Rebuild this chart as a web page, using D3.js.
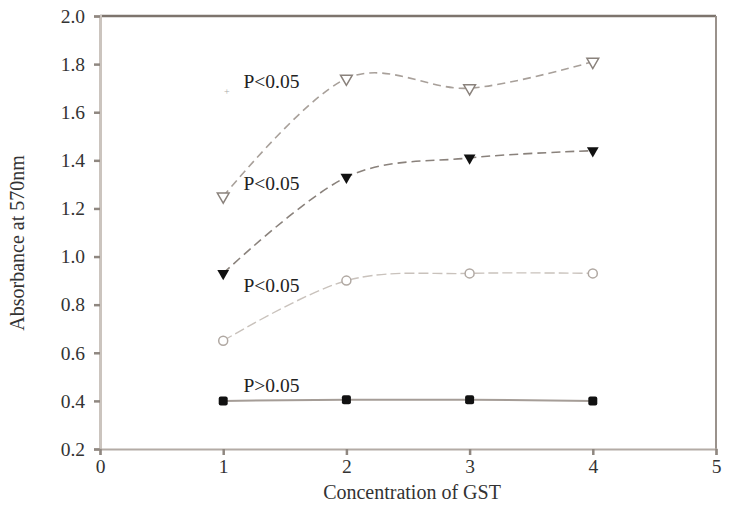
<!DOCTYPE html>
<html lang="en">
<head>
<meta charset="utf-8">
<title>Absorbance vs GST</title>
<script src="https://d3js.org/d3.v7.min.js"></script>
<style>
  body { margin: 0; background: #fff; }
  text { font-family: "Liberation Serif", "Times New Roman", serif; fill: #333; }
</style>
</head>
<body>
<svg width="737" height="505"></svg>
<script>
// data
var conc = [1, 2, 3, 4];
var seriesA = [1.25, 1.74, 1.70, 1.81];   // open triangles
var seriesB = [0.93, 1.33, 1.41, 1.44];   // filled triangles
var seriesC = [0.65, 0.90, 0.93, 0.93];   // open circles
var seriesD = [0.40, 0.405, 0.405, 0.40]; // filled squares
var labels = ["P<0.05", "P<0.05", "P<0.05", "P>0.05"];
var labelY = [1.70, 1.277, 0.853, 0.437];
var xTicks = [0, 1, 2, 3, 4, 5];
var yTicks = [0.2, 0.4, 0.6, 0.8, 1.0, 1.2, 1.4, 1.6, 1.8, 2.0];

var svg = d3.select("svg");
var plotL = 100, plotR = 716, plotT = 16, plotB = 449;

var x = d3.scaleLinear().domain([0, 5]).range([plotL, plotR]);
var y = d3.scaleLinear().domain([0.2, 2.0]).range([plotB, plotT]);

// frame
svg.append("line").attr("x1", plotL).attr("x2", plotR).attr("y1", plotT).attr("y2", plotT)
   .attr("stroke", "#7d746d").attr("stroke-width", 2.5);
svg.append("line").attr("x1", plotR).attr("x2", plotR).attr("y1", plotT).attr("y2", plotB)
   .attr("stroke", "#9a928c").attr("stroke-width", 2);

// axes
var yAxis = svg.append("g").attr("transform", "translate(" + plotL + ",0)")
   .call(d3.axisLeft(y).tickValues(yTicks).tickFormat(d3.format(".1f")).tickSize(6).tickPadding(9));
var xAxis = svg.append("g").attr("transform", "translate(0," + plotB + ")")
   .call(d3.axisBottom(x).tickValues(xTicks).tickFormat(d3.format("d")).tickSize(6).tickPadding(4));

yAxis.select(".domain").attr("stroke", "#cbc4be").attr("stroke-width", 3);
xAxis.select(".domain").attr("stroke", "#b3aba5").attr("stroke-width", 2);
svg.selectAll(".tick line").attr("stroke", "#8f8780").attr("stroke-width", 2.5);
yAxis.attr("font-size", 19.5).attr("font-family", "Liberation Serif, serif");
xAxis.attr("font-size", 19.5).attr("font-family", "Liberation Serif, serif");
svg.selectAll(".tick text").attr("fill", "#333");

// lines
var smooth = d3.line().x(function(d) { return x(d[0]); }).y(function(d) { return y(d[1]); })
   .curve(d3.curveCardinal.tension(0));
var straight = d3.line().x(function(d) { return x(d[0]); }).y(function(d) { return y(d[1]); });

function pts(vals) { return conc.map(function(c, i) { return [c, vals[i]]; }); }

svg.append("path").attr("d", smooth(pts(seriesA))).attr("fill", "none")
   .attr("stroke", "#a8a09a").attr("stroke-width", 1.6).attr("stroke-dasharray", "8,5");
svg.append("path").attr("d", smooth(pts(seriesB))).attr("fill", "none")
   .attr("stroke", "#8a827c").attr("stroke-width", 1.6).attr("stroke-dasharray", "9,5");
svg.append("path").attr("d", smooth(pts(seriesC))).attr("fill", "none")
   .attr("stroke", "#c9c2bc").attr("stroke-width", 1.4).attr("stroke-dasharray", "10,4");
svg.append("path").attr("d", straight(pts(seriesD))).attr("fill", "none")
   .attr("stroke", "#a59d97").attr("stroke-width", 2);

// markers
var triDown = d3.symbol().type(d3.symbolTriangle).size(60);
svg.selectAll(".mA").data(pts(seriesA)).enter().append("path")
   .attr("d", triDown)
   .attr("transform", function(d) { return "translate(" + x(d[0]) + "," + y(d[1]) + ") rotate(180)"; })
   .attr("fill", "#fff").attr("stroke", "#8a827c").attr("stroke-width", 1.5);
svg.selectAll(".mB").data(pts(seriesB)).enter().append("path")
   .attr("d", triDown)
   .attr("transform", function(d) { return "translate(" + x(d[0]) + "," + y(d[1]) + ") rotate(180)"; })
   .attr("fill", "#111");
svg.selectAll(".mC").data(pts(seriesC)).enter().append("circle")
   .attr("cx", function(d) { return x(d[0]); }).attr("cy", function(d) { return y(d[1]); })
   .attr("r", 4.5).attr("fill", "#fff").attr("stroke", "#b0a8a2").attr("stroke-width", 1.5);
svg.selectAll(".mD").data(pts(seriesD)).enter().append("rect")
   .attr("x", function(d) { return x(d[0]) - 4.5; }).attr("y", function(d) { return y(d[1]) - 4.5; })
   .attr("width", 9).attr("height", 9).attr("rx", 2).attr("fill", "#111");

// stray marker by first label
svg.append("text").attr("x", x(1.03)).attr("y", y(1.67)).attr("text-anchor", "middle")
   .style("font-size", "10px").style("fill", "#aaa").text("+");

// p-value labels
svg.selectAll(".plab").data(labels).enter().append("text")
   .attr("x", x(1.165)).attr("y", function(d, i) { return y(labelY[i]); })
   .style("font-size", "19.5px").style("fill", "#222")
   .text(function(d) { return d; });

// titles
svg.append("text").attr("x", x(2.5) + 4).attr("y", 499).attr("text-anchor", "middle")
   .style("font-size", "20px").text("Concentration of GST");
svg.append("text").attr("transform", "translate(24,243) rotate(-90)")
   .attr("text-anchor", "middle").style("font-size", "20px")
   .text("Absorbance at 570nm");
</script>
</body>
</html>
